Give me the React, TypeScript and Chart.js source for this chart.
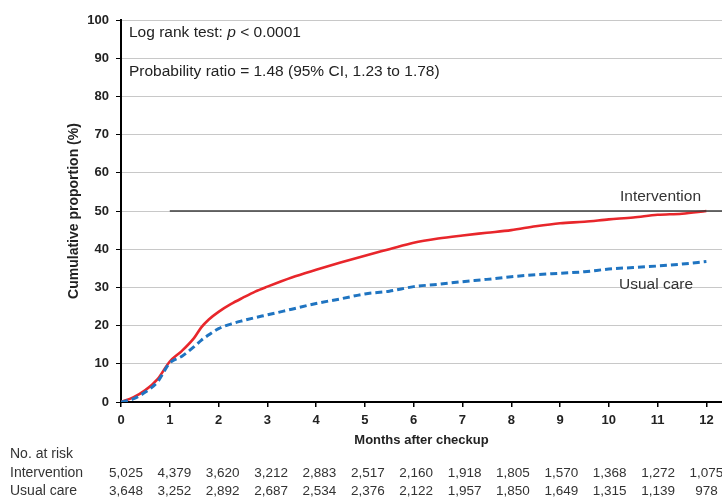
import React, { useEffect, useRef } from "react";
import { Chart, registerables } from "chart.js";

Chart.register(...registerables);

// ---- Data ----
const months = [0, 0.25, 0.5, 0.75, 1, 1.25, 1.5, 1.65, 1.8, 2, 2.25, 2.5, 2.75, 3, 3.5, 4, 4.5, 5, 5.5, 6, 6.5, 7, 7.5, 8, 8.5, 9, 9.5, 10, 10.5, 11, 11.5, 12];
const intervention = [0, 1.2, 3.1, 6.0, 10.6, 13.4, 16.8, 19.6, 21.6, 23.6, 25.6, 27.3, 28.9, 30.2, 32.6, 34.6, 36.5, 38.3, 40.0, 41.7, 42.8, 43.6, 44.3, 45.0, 46.0, 46.8, 47.2, 47.8, 48.3, 49.0, 49.3, 50.0];
const usualCare = [0, 0.8, 2.6, 5.3, 10.2, 12.0, 14.5, 16.2, 17.6, 19.2, 20.4, 21.3, 22.1, 22.8, 24.3, 25.8, 27.0, 28.3, 29.0, 30.2, 30.8, 31.5, 32.1, 32.8, 33.3, 33.7, 34.1, 34.8, 35.2, 35.6, 36.1, 36.8];

const xTicks = [0, 1, 2, 3, 4, 5, 6, 7, 8, 9, 10, 11, 12];
const yTicks = [0, 10, 20, 30, 40, 50, 60, 70, 80, 90, 100];
const xMax = 12.32;

const referenceLevel = 50;
const referenceStart = 1;

const riskIntervention = [5025, 4379, 3620, 3212, 2883, 2517, 2160, 1918, 1805, 1570, 1368, 1272, 1075];
const riskUsualCare = [3648, 3252, 2892, 2687, 2534, 2376, 2122, 1957, 1850, 1649, 1315, 1139, 978];

const FONT = "'Liberation Sans', Arial, Helvetica, sans-serif";

const annotationPlugin = {
  id: "kmAnnotations",
  afterDraw(chart: any) {
    const ctx = chart.ctx as CanvasRenderingContext2D;
    const area = chart.chartArea;
    const xs = chart.scales.x;
    ctx.save();

    // statistics text
    ctx.fillStyle = "#222";
    ctx.textBaseline = "middle";
    ctx.textAlign = "left";
    ctx.font = `15.5px ${FONT}`;
    let tx = 129;
    const part1 = "Log rank test: ";
    ctx.fillText(part1, tx, 33);
    tx += ctx.measureText(part1).width;
    ctx.font = `italic 15.5px ${FONT}`;
    ctx.fillText("p", tx, 33);
    tx += ctx.measureText("p").width;
    ctx.font = `15.5px ${FONT}`;
    ctx.fillText(" < 0.0001", tx, 33);
    ctx.fillText("Probability ratio = 1.48 (95% CI, 1.23 to 1.78)", 129, 72);

    // series labels
    ctx.fillStyle = "#333";
    ctx.fillText("Intervention", 620, 197);
    ctx.fillText("Usual care", 619, 285);

    // y title
    ctx.save();
    ctx.translate(74, (area.top + area.bottom) / 2);
    ctx.rotate(-Math.PI / 2);
    ctx.textAlign = "center";
    ctx.font = `bold 14px ${FONT}`;
    ctx.fillStyle = "#222";
    ctx.fillText("Cumulative proportion (%)", 0, 0);
    ctx.restore();

    // x title
    ctx.textAlign = "center";
    ctx.font = `bold 13px ${FONT}`;
    ctx.fillStyle = "#222";
    ctx.fillText("Months after checkup", (area.left + area.right) / 2, 440);

    // number at risk table
    ctx.fillStyle = "#333";
    ctx.textAlign = "left";
    ctx.font = `14px ${FONT}`;
    ctx.fillText("No. at risk", 10, 454);
    ctx.fillText("Intervention", 10, 473);
    ctx.fillText("Usual care", 10, 491);
    ctx.textAlign = "center";
    ctx.font = `13.5px ${FONT}`;
    xTicks.forEach((m, i) => {
      const px = xs.getPixelForValue(m) + 5 * (1 - m / 12);
      ctx.fillText(riskIntervention[i].toLocaleString("en-US"), px, 473);
      ctx.fillText(riskUsualCare[i].toLocaleString("en-US"), px, 491);
    });
    ctx.restore();
  },
};

export default function App() {
  const canvasRef = useRef<HTMLCanvasElement | null>(null);

  useEffect(() => {
    if (!canvasRef.current) return;
    const chart = new Chart(canvasRef.current, {
      type: "line",
      data: {
        datasets: [
          {
            label: "Reference",
            data: [
              { x: referenceStart, y: referenceLevel },
              { x: xMax, y: referenceLevel },
            ],
            borderColor: "#3c3c3c",
            borderWidth: 1.5,
            pointRadius: 0,
          },
          {
            label: "Usual care",
            data: months.map((m, i) => ({ x: m, y: usualCare[i] })),
            borderColor: "#1f74c1",
            borderWidth: 3,
            borderDash: [7, 4],
            pointRadius: 0,
            cubicInterpolationMode: "monotone",
          },
          {
            label: "Intervention",
            data: months.map((m, i) => ({ x: m, y: intervention[i] })),
            borderColor: "#e8262b",
            borderWidth: 2.6,
            pointRadius: 0,
            cubicInterpolationMode: "monotone",
          },
        ],
      },
      options: {
        animation: false,
        responsive: true,
        maintainAspectRatio: false,
        layout: { padding: { top: 20, right: 0, left: 0, bottom: 0 } },
        plugins: {
          legend: { display: false },
          tooltip: { enabled: false },
        },
        scales: {
          x: {
            type: "linear",
            min: 0,
            max: xMax,
            afterBuildTicks: (scale: any) => {
              scale.ticks = xTicks.map((v) => ({ value: v }));
            },
            afterFit: (scale: any) => {
              scale.height = 99;
            },
            grid: {
              drawOnChartArea: false,
              drawTicks: true,
              tickLength: 5,
              tickColor: "#000",
              lineWidth: 1.5,
            },
            border: { display: true, color: "#000", width: 2 },
            ticks: {
              color: "#222",
              font: { family: FONT, size: 13, weight: "bold" },
              padding: 6,
              maxRotation: 0,
              autoSkip: false,
            },
          },
          y: {
            type: "linear",
            min: 0,
            max: 100,
            afterBuildTicks: (scale: any) => {
              scale.ticks = yTicks.map((v) => ({ value: v }));
            },
            afterFit: (scale: any) => {
              scale.width = 121;
            },
            grid: {
              color: "#c8c8c8",
              lineWidth: 1,
              drawTicks: true,
              tickLength: 5,
              tickColor: "#000",
            },
            border: { display: true, color: "#000", width: 2 },
            ticks: {
              color: "#222",
              font: { family: FONT, size: 13, weight: "bold" },
              padding: 7,
            },
          },
        },
      },
      plugins: [annotationPlugin],
    } as any);
    return () => chart.destroy();
  }, []);

  return (
    <div style={{ position: "fixed", left: 0, top: 0, width: 722, height: 501, background: "#fff" }}>
      <canvas ref={canvasRef} />
    </div>
  );
}
